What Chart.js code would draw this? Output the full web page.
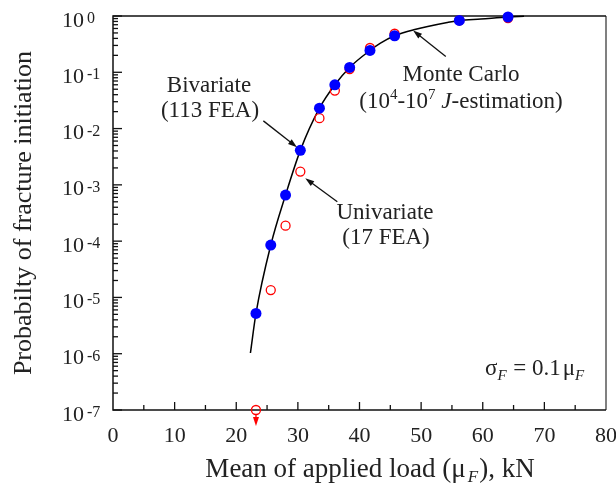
<!DOCTYPE html>
<html>
<head>
<meta charset="utf-8">
<script src="https://cdn.jsdelivr.net/npm/chart.js@4.4.1/dist/chart.umd.min.js"></script>
<style>
  html, body { margin: 0; padding: 0; background: #fff; }
  #wrap { width: 616px; height: 491px; }
</style>
</head>
<body>
<div id="wrap"><canvas id="chart" width="616" height="491"></canvas></div>
<script>
// --- data ---
// bivariate (113 FEA), filled blue
const bivLoad = [23.2, 25.6, 28.0, 30.4, 33.5, 36.0, 38.4, 41.7, 45.7, 56.2, 64.1];
const bivProb = [5.2e-6, 8.5e-5, 6.6e-4, 4.1e-3, 0.023, 0.060, 0.122, 0.244, 0.446, 0.835, 0.96];
// univariate (17 FEA), open red (first one is below 1e-7)
const uniLoad = [23.2, 25.6, 28.0, 30.4, 33.5, 36.0, 38.4, 41.7, 45.7, 56.2, 64.1];
const uniProb = [1e-7, 1.35e-5, 1.88e-4, 1.72e-3, 0.0153, 0.0474, 0.114, 0.270, 0.484, 0.835, 0.92];
// Monte Carlo curve
const mcLoad = [22.3, 23.2, 25.6, 28.0, 30.4, 33.5, 36.0, 38.4, 41.7, 43.4, 45.7, 48.8, 54.3, 56.2, 59.7, 64.1, 66.7];
const mcProb = [1.03e-6, 5.2e-6, 8.5e-5, 6.6e-4, 4.1e-3, 0.023, 0.060, 0.122, 0.244, 0.33, 0.446, 0.57, 0.77, 0.835, 0.885, 0.96, 0.985];
// axis ticks
const xTicks = [0, 10, 20, 30, 40, 50, 60, 70, 80];
const yExps = [0, -1, -2, -3, -4, -5, -6, -7];

const FONT = "'Liberation Serif', 'Times New Roman', serif";
const INK = '#222';

function pts(xs, ys) { return xs.map((x, i) => ({ x: x, y: ys[i] })); }

function fontOf(p) {
  return (p.it ? 'italic ' : '') + (p.s || 23) + 'px ' + FONT;
}
// draw a line of text made of pieces (for super/subscripts)
function rich(ctx, parts, x, y, align) {
  let w = 0;
  parts.forEach(p => { ctx.font = fontOf(p); p.w = ctx.measureText(p.t).width; w += p.w + (p.gap || 0); });
  let cx = align === 'center' ? x - w / 2 : align === 'right' ? x - w : x;
  parts.forEach(p => {
    ctx.font = fontOf(p);
    cx += (p.gap || 0);
    ctx.fillText(p.t, cx, y + (p.dy || 0));
    cx += p.w;
  });
}

function arrow(ctx, x1, y1, x2, y2, color) {
  const a = Math.atan2(y2 - y1, x2 - x1);
  const L = 9, W = 3;
  ctx.strokeStyle = color; ctx.fillStyle = color; ctx.lineWidth = 1.3;
  ctx.beginPath();
  ctx.moveTo(x1, y1);
  ctx.lineTo(x2 - Math.cos(a) * L * 0.8, y2 - Math.sin(a) * L * 0.8);
  ctx.stroke();
  ctx.beginPath();
  ctx.moveTo(x2, y2);
  ctx.lineTo(x2 - Math.cos(a) * L - Math.sin(a) * W, y2 - Math.sin(a) * L + Math.cos(a) * W);
  ctx.lineTo(x2 - Math.cos(a) * L + Math.sin(a) * W, y2 - Math.sin(a) * L - Math.cos(a) * W);
  ctx.closePath();
  ctx.fill();
}

const framePlugin = {
  id: 'frame',
  beforeDatasetsDraw(chart) {
    const ctx = chart.ctx, a = chart.chartArea;
    const xs = chart.scales.x, ys = chart.scales.y;
    ctx.save();
    // outer frame
    ctx.strokeStyle = '#808080'; ctx.lineWidth = 2;
    ctx.beginPath(); ctx.moveTo(a.right, a.top); ctx.lineTo(a.right, a.bottom); ctx.stroke();
    ctx.strokeStyle = '#111'; ctx.lineWidth = 1.5;
    ctx.beginPath();
    ctx.moveTo(a.right, a.top); ctx.lineTo(a.left, a.top);
    ctx.lineTo(a.left, a.bottom); ctx.lineTo(a.right, a.bottom);
    ctx.stroke();
    // x ticks, inward
    ctx.lineWidth = 1.3;
    for (let v = 5; v < 80; v += 5) {
      const px = xs.getPixelForValue(v);
      const len = v % 10 === 0 ? 8 : 5;
      ctx.beginPath(); ctx.moveTo(px, a.bottom); ctx.lineTo(px, a.bottom - len); ctx.stroke();
    }
    // y ticks, inward, with log minors
    yExps.forEach(e => {
      const py = ys.getPixelForValue(Math.pow(10, e));
      ctx.beginPath(); ctx.moveTo(a.left, py); ctx.lineTo(a.left + 9, py); ctx.stroke();
      if (e > -7) {
        for (let m = 2; m <= 9; m++) {
          const pm = ys.getPixelForValue(m * Math.pow(10, e - 1));
          ctx.beginPath(); ctx.moveTo(a.left, pm); ctx.lineTo(a.left + 5, pm); ctx.stroke();
        }
      }
    });
    ctx.restore();
  },
  afterDatasetsDraw(chart) {
    const ctx = chart.ctx, a = chart.chartArea;
    const xs = chart.scales.x, ys = chart.scales.y;
    const P = (x, y) => [xs.getPixelForValue(x), ys.getPixelForValue(y)];
    ctx.save();
    ctx.fillStyle = INK;
    ctx.textBaseline = 'alphabetic';
    ctx.textAlign = 'left';

    // x tick labels
    xTicks.forEach(v => {
      rich(ctx, [{ t: String(v), s: 22 }], xs.getPixelForValue(v), a.bottom + 32, 'center');
    });
    // y tick labels 10^e
    yExps.forEach(e => {
      const py = ys.getPixelForValue(Math.pow(10, e));
      ctx.font = '22px ' + FONT;
      ctx.textAlign = 'right';
      ctx.fillText('10', 84, py + 10.5);
      ctx.textAlign = 'left';
      ctx.font = '16px ' + FONT;
      ctx.fillText(e === 0 ? '0' : '-' + (-e), 87, py + 7);
    });

    // axis titles
    rich(ctx, [
      { t: 'Mean of applied load (\u03bc', s: 27 },
      { t: 'F', s: 17, it: true, dy: 5, gap: 2 },
      { t: '), kN', s: 27, gap: 1 }
    ], 370, 477, 'center');
    ctx.save();
    ctx.translate(31, 213);
    ctx.rotate(-Math.PI / 2);
    rich(ctx, [{ t: 'Probabilty of fracture initiation', s: 26 }], 0, 0, 'center');
    ctx.restore();

    // annotations
    rich(ctx, [{ t: 'Bivariate' }], 209, 92, 'center');
    rich(ctx, [{ t: '(113 FEA)' }], 210, 117, 'center');
    rich(ctx, [{ t: 'Monte Carlo' }], 461, 81, 'center');
    rich(ctx, [
      { t: '(10' }, { t: '4', s: 15, dy: -9 }, { t: '-10' }, { t: '7', s: 15, dy: -9 },
      { t: ' ' }, { t: 'J', it: true }, { t: '-estimation)' }
    ], 461, 108, 'center');
    rich(ctx, [{ t: 'Univariate' }], 385, 219, 'center');
    rich(ctx, [{ t: '(17 FEA)' }], 386, 244, 'center');
    rich(ctx, [
      { t: '\u03c3' }, { t: 'F', s: 15, it: true, dy: 5 },
      { t: ' = 0.1', gap: 1 }, { t: '\u03bc', gap: 2 }, { t: 'F', s: 15, it: true, dy: 5 }
    ], 485, 375, 'left');

    // pointer arrows (in data coordinates)
    let p1 = P(24.4, 0.0137), p2 = P(29.85, 0.00467);
    arrow(ctx, p1[0], p1[1], p2[0], p2[1], '#111');
    p1 = P(36.4, 5.0e-4); p2 = P(31.2, 1.31e-3);
    arrow(ctx, p1[0], p1[1], p2[0], p2[1], '#111');
    p1 = P(54.0, 0.191); p2 = P(48.7, 0.554);
    arrow(ctx, p1[0], p1[1], p2[0], p2[1], '#111');

    // red arrow under the univariate point that falls below 1e-7
    const pr = P(uniLoad[0], uniProb[0]);
    arrow(ctx, pr[0], pr[1] + 5, pr[0], pr[1] + 16, '#ff0000');
    ctx.restore();
  }
};

new Chart(document.getElementById('chart'), {
  type: 'scatter',
  data: {
    datasets: [
      {
        label: 'Bivariate',
        data: pts(bivLoad, bivProb),
        pointRadius: 5.5,
        pointBackgroundColor: '#0000ff',
        pointBorderWidth: 0,
        borderWidth: 0,
        showLine: false,
        clip: false
      },
      {
        label: 'Univariate',
        data: pts(uniLoad, uniProb),
        pointRadius: 4.5,
        pointBackgroundColor: 'rgba(255,255,255,0)',
        pointBorderColor: '#ff0000',
        pointBorderWidth: 1.3,
        showLine: false,
        clip: false
      },
      {
        label: 'Monte Carlo',
        data: pts(mcLoad, mcProb),
        showLine: true,
        pointRadius: 0,
        borderColor: '#000',
        borderWidth: 1.5,
        cubicInterpolationMode: 'monotone',
        clip: false
      }
    ]
  },
  options: {
    responsive: false,
    animation: false,
    layout: { padding: { top: 16, right: 10, left: 0, bottom: 0 } },
    plugins: { legend: { display: false }, tooltip: { enabled: false } },
    scales: {
      x: {
        type: 'linear', min: 0, max: 80,
        ticks: { display: false },
        grid: { display: false },
        border: { display: false },
        afterFit(s) { s.height = 81; }
      },
      y: {
        type: 'logarithmic', min: 1e-7, max: 1,
        ticks: { display: false },
        grid: { display: false },
        border: { display: false },
        afterFit(s) { s.width = 113; }
      }
    }
  },
  plugins: [framePlugin]
});
</script>
</body>
</html>
